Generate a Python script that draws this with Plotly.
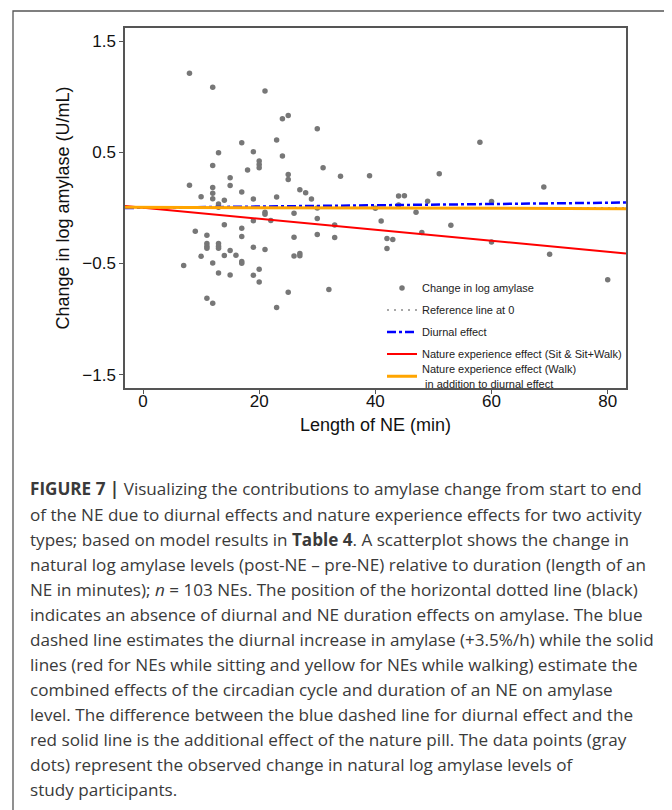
import plotly.graph_objects as go

# ---------------- data ----------------
ne_minutes = [8, 12, 21, 24, 25, 30, 17, 23, 19, 13, 24, 20, 20, 20, 12, 31, 18, 58, 51, 25,
              25, 15, 15, 34, 39, 8, 12, 12, 12, 27, 69, 17, 28, 10, 23, 29, 19, 14, 44, 45,
              13, 13, 49, 44, 60, 30, 40, 21, 21, 26, 47, 30, 22, 19, 41, 14, 33, 53, 17, 9,
              48, 30, 11, 17, 26, 33, 42, 43, 60, 11, 13, 11, 13, 11, 13, 19, 42, 21, 15, 16,
              14, 10, 26, 27, 27, 70, 17, 17, 7, 12, 20, 13, 15, 19, 20, 80, 32, 25, 11, 12, 23]
log_amylase_change = [1.21, 1.085, 1.05, 0.80, 0.83, 0.71, 0.585, 0.61, 0.505, 0.495, 0.465, 0.42,
                      0.39, 0.36, 0.38, 0.36, 0.34, 0.59, 0.305, 0.30, 0.255, 0.27, 0.20, 0.283,
                      0.287, 0.203, 0.183, 0.13, 0.082, 0.163, 0.188, 0.142, 0.136, 0.10, 0.097,
                      0.08, 0.08, 0.068, 0.105, 0.108, 0.035, 0.005, 0.058, 0.025, 0.057, -0.002,
                      -0.005, -0.04, -0.058, -0.05, -0.04, -0.097, -0.115, -0.117, -0.118, -0.152,
                      -0.156, -0.157, -0.184, -0.21, -0.223, -0.24, -0.247, -0.259, -0.265, -0.268,
                      -0.276, -0.286, -0.308, -0.322, -0.322, -0.345, -0.345, -0.365, -0.365,
                      -0.355, -0.366, -0.376, -0.385, -0.426, -0.43, -0.437, -0.433, -0.412,
                      -0.432, -0.419, -0.484, -0.50, -0.52, -0.497, -0.553, -0.587, -0.605,
                      -0.606, -0.668, -0.648, -0.735, -0.76, -0.813, -0.858, -0.897]

line_x = [-3.1, 83.15]
reference_y = [0.0, 0.0]
diurnal_y = [-0.002, 0.047]
sit_effect_y = [0.016, -0.411]
walk_effect_y = [0.004, -0.008]

x_ticks = [0, 20, 40, 60, 80]
y_ticks = [1.5, 0.5, -0.5, -1.5]

caption_lines = [
    "<b>FIGURE 7 |</b> Visualizing the contributions to amylase change from start to end",
    "of the NE due to diurnal effects and nature experience effects for two activity",
    "types; based on model results in <b>Table 4</b>. A scatterplot shows the change in",
    "natural log amylase levels (post-NE – pre-NE) relative to duration (length of an",
    "NE in minutes); <i>n</i> = 103 NEs. The position of the horizontal dotted line (black)",
    "indicates an absence of diurnal and NE duration effects on amylase. The blue",
    "dashed line estimates the diurnal increase in amylase (+3.5%/h) while the solid",
    "lines (red for NEs while sitting and yellow for NEs while walking) estimate the",
    "combined effects of the circadian cycle and duration of an NE on amylase",
    "level. The difference between the blue dashed line for diurnal effect and the",
    "red solid line is the additional effect of the nature pill. The data points (gray",
    "dots) represent the observed change in natural log amylase levels of",
    "study participants.",
]

# ---------------- layout geometry (screen pixels) ----------------
W, H = 672, 810
OFF = 8  # default page body margin
PL, PR, PT, PB = 125, 626, 28, 388  # plot area on screen


def px_x(px):
    return (px - PL) / (PR - PL)


def px_y(py):
    return (PB - py) / (PB - PT)


FONT = "Liberation Sans, Arial, sans-serif"
CAP_FONT = "Open Sans, Liberation Sans, sans-serif"

fig = go.Figure()
fig.add_trace(go.Scatter(x=ne_minutes, y=log_amylase_change, mode="markers",
                         name="Change in log amylase", legendgroup="a",
                         marker=dict(color="#777777", size=5.5)))
fig.add_trace(go.Scatter(x=line_x, y=reference_y, mode="lines", name="Reference line at 0",
                         legendgroup="b",
                         line=dict(color="#8c8c8c", dash="2px,5px", width=1.5)))
fig.add_trace(go.Scatter(x=line_x, y=diurnal_y, mode="lines", name="Diurnal effect",
                         legendgroup="c",
                         line=dict(color="#0000ff", dash="dashdot", width=2.5)))
fig.add_trace(go.Scatter(x=line_x, y=sit_effect_y, mode="lines",
                         name="Nature experience effect (Sit & Sit+Walk)", legendgroup="d",
                         line=dict(color="#ff0000", width=2)))
fig.add_trace(go.Scatter(x=line_x, y=walk_effect_y, mode="lines",
                         name="Nature experience effect (Walk)<br> in addition to diurnal effect",
                         legendgroup="e", legend="legend2",
                         line=dict(color="#ffa500", width=3)))

axis_common = dict(showline=True, linecolor="#555555", linewidth=1.5, mirror=True,
                   ticks="outside", ticklen=4, tickcolor="#555555", tickwidth=1.2,
                   showgrid=False, zeroline=False,
                   tickfont=dict(family=FONT, size=17, color="#111111"),
                   title_font=dict(family=FONT, size=18, color="#111111"))

fig.update_xaxes(range=[line_x[0], line_x[1]], tickvals=x_ticks, ticklabelstandoff=-7,
                 title_text="Length of NE (min)", title_standoff=8, **axis_common)
fig.update_yaxes(range=[-1.621, 1.617], tickvals=y_ticks, tickformat=".1f",
                 title_text="Change in log amylase (U/mL)", title_standoff=8, **axis_common)

annotations = []
for i, line in enumerate(caption_lines):
    annotations.append(dict(text=line, xref="paper", yref="paper",
                            x=px_x(28), y=px_y(489 + 25 * i),
                            xanchor="left", yanchor="middle", showarrow=False,
                            align="left",
                            font=dict(family=CAP_FONT, size=17.1, color="#3a3a3a")))

legend_font = dict(family=FONT, size=11, color="#222222")
fig.update_layout(
    width=W - OFF, height=H - OFF,
    margin=dict(l=PL - OFF, r=W - PR, t=PT - OFF, b=H - PB, pad=0),
    paper_bgcolor="white", plot_bgcolor="white",
    showlegend=True,
    legend=dict(x=px_x(382), y=px_y(273.5), xanchor="left", yanchor="top",
                bgcolor="rgba(0,0,0,0)", borderwidth=0, tracegroupgap=3,
                font=legend_font),
    legend2=dict(x=px_x(382), y=px_y(355.5), xanchor="left", yanchor="top",
                 bgcolor="rgba(0,0,0,0)", borderwidth=0,
                 font=legend_font),
    annotations=annotations,
    shapes=[dict(type="rect", xref="paper", yref="paper",
                 x0=px_x(13), x1=px_x(666), y0=px_y(830), y1=px_y(11),
                 line=dict(color="#555555", width=1.3), layer="below")],
)

fig.write_html("out.html")
